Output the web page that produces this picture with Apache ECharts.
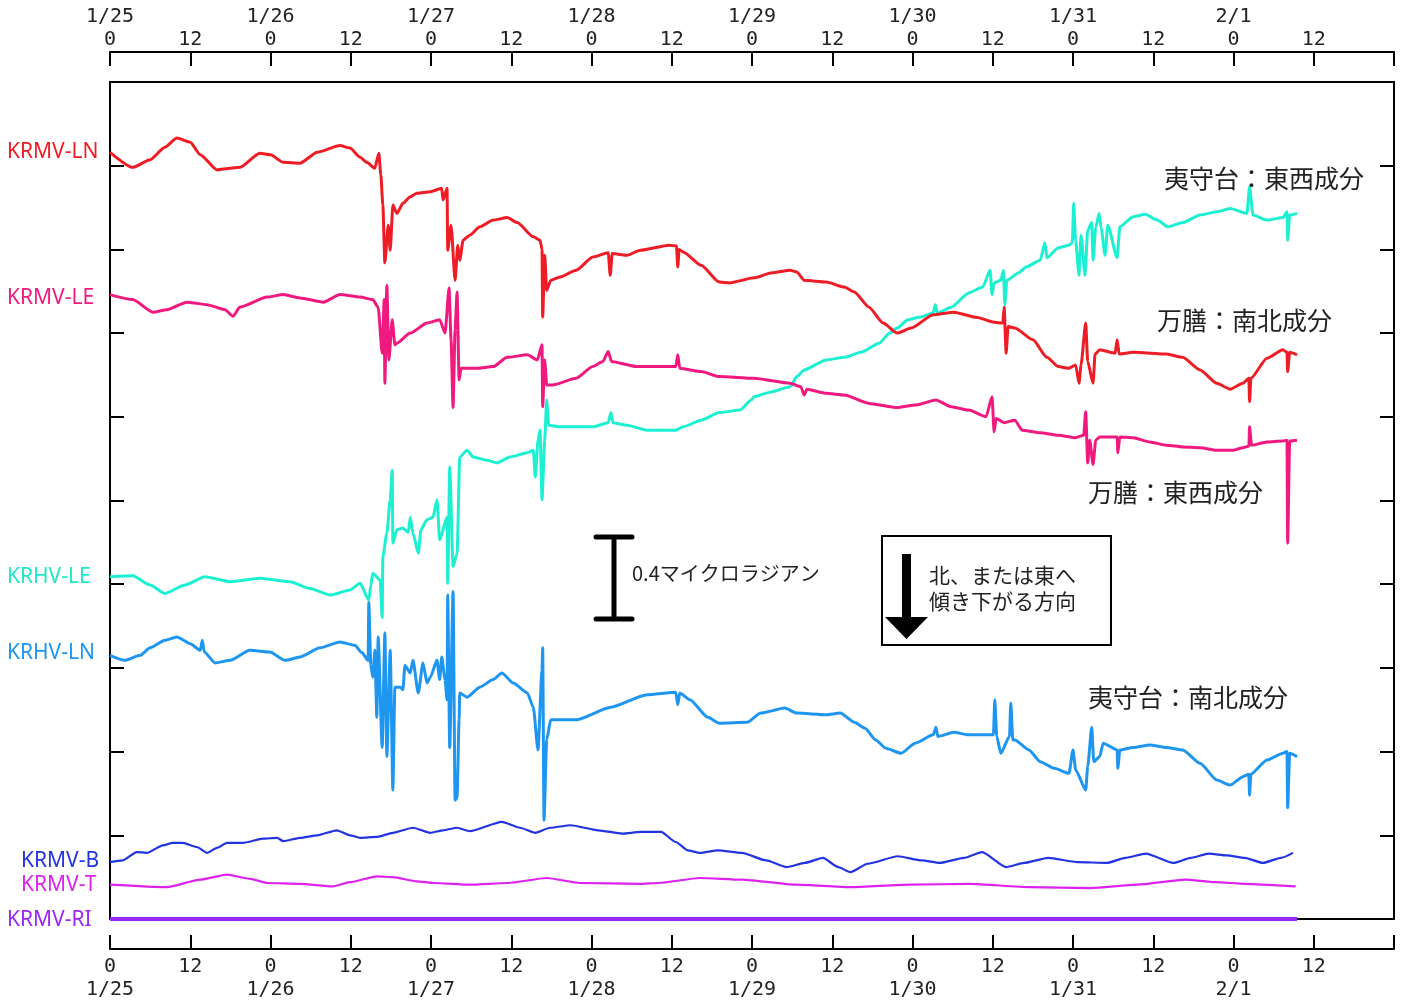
<!DOCTYPE html>
<html>
<head>
<meta charset="utf-8">
<script src="https://cdn.jsdelivr.net/npm/echarts@6/dist/echarts.min.js"></script>
<style>
html,body{margin:0;padding:0;background:#fff;}
#chart{width:1407px;height:1003px;}
</style>
</head>
<body>
<div id="chart"></div>
<script>
// x: hours since 1/25 0:00 ; y: offset scale, 1 unit = 0.4 microradian
const dayLabels = ['1/25','1/26','1/27','1/28','1/29','1/30','1/31','2/1'];
const hourLabel = '12';

const krmvLN = [[0,9.16],[3.4,8.98],[6,9.07],[8.2,9.22],[10,9.33],[12,9.28],[13.5,9.13],[16,8.95],[18,8.97],[19.4,8.98],[22.4,9.15],[24,9.13],[25.9,9.04],[28.4,9.03],[31,9.16],[34.4,9.24],[35.9,9.21],[37.4,9.10],[38.4,9.04],[39.6,8.97],[40.2,9.15],[40.5,8.89],[40.8,8.53],[41.1,7.84],[41.6,8.29],[41.9,7.99],[42.3,8.53],[42.9,8.43],[43.8,8.55],[44.9,8.63],[45.9,8.67],[47.9,8.69],[49.6,8.73],[49.8,8.59],[50.4,8.73],[50.5,7.99],[51,8.29],[51.6,7.63],[52,8.05],[52.3,7.87],[52.8,8.11],[53.8,8.17],[55.3,8.27],[57.3,8.35],[59.4,8.38],[60.9,8.32],[63.3,8.15],[64.3,8.11],[64.6,8.0],[64.7,7.19],[65,7.93],[65.3,7.51],[65.9,7.63],[67.3,7.67],[69.7,7.75],[72.2,7.91],[74.5,7.96],[74.8,7.69],[75.1,7.95],[77.3,7.93],[79.3,7.99],[83.6,8.05],[84.7,8.04],[84.9,7.79],[85.1,8.0],[85.7,7.97],[88.4,7.81],[91.1,7.61],[92.6,7.60],[96.3,7.66],[99,7.72],[101.7,7.75],[102.7,7.73],[103.8,7.63],[107.1,7.61],[109.8,7.55],[111.3,7.49],[113.5,7.31],[115.6,7.12],[117.7,7.00],[119.8,7.06],[123.1,7.22],[126.2,7.25],[129.5,7.19],[132.2,7.13],[133.5,7.12],[133.7,7.31],[134,6.76],[134.3,7.08],[135.3,7.06],[138,6.92],[140.1,6.71],[141.8,6.60],[143.4,6.58],[144.4,6.62],[144.9,6.40],[145.2,6.62],[145.9,7.12],[146.2,6.66],[147,6.40],[147.3,6.75],[148,6.80],[150.3,6.76],[150.6,6.92],[150.9,6.75],[153,6.77],[158,6.75],[160.4,6.71],[163,6.56],[165.5,6.40],[167.5,6.33],[169.4,6.40],[170.3,6.46],[170.4,6.18],[170.6,6.46],[173,6.70],[175.4,6.80],[176,6.77],[176.1,6.54],[176.4,6.77],[177.5,6.74]];

const krmvLE = [[0,7.46],[3.4,7.40],[6.4,7.25],[8.5,7.28],[11.5,7.37],[14.5,7.34],[17.2,7.28],[18.4,7.20],[19.4,7.31],[23.5,7.43],[25.9,7.46],[28.4,7.42],[31.9,7.37],[34.4,7.46],[37.4,7.43],[39.3,7.40],[40.1,7.31],[40.7,6.76],[41,7.40],[41.1,6.40],[41.4,7.57],[41.7,6.68],[42.2,7.16],[42.6,6.86],[42.9,6.88],[44.9,7.00],[47.4,7.12],[49.3,7.16],[50.1,7.00],[50.7,7.54],[51,6.92],[51.3,6.11],[51.6,7.04],[51.9,7.49],[52.2,6.44],[52.5,6.58],[54.9,6.58],[57.3,6.60],[59.4,6.71],[62.4,6.74],[63.9,6.68],[64.6,6.86],[64.7,6.12],[65,6.68],[65.3,6.38],[66.2,6.38],[69.7,6.46],[72.2,6.60],[73.7,6.66],[74.5,6.78],[75,6.66],[78.7,6.60],[84.6,6.60],[84.9,6.74],[85.2,6.58],[88.4,6.54],[91.1,6.48],[96.3,6.46],[101.7,6.40],[103.3,6.36],[103.8,6.26],[104.2,6.33],[107.1,6.28],[109.8,6.26],[113.5,6.16],[117.7,6.11],[120.4,6.14],[123.5,6.20],[125.8,6.12],[128.4,6.08],[131,6.00],[131.9,6.24],[132.2,5.82],[132.5,5.98],[133.7,5.93],[135.3,5.96],[136.4,5.84],[139.1,5.81],[141.8,5.78],[144.4,5.75],[145.6,5.78],[145.9,6.06],[146.2,5.45],[146.5,5.72],[147,5.43],[147.4,5.72],[148,5.76],[150.6,5.76],[150.7,5.57],[151,5.76],[153,5.75],[155.5,5.70],[158,5.66],[160.4,5.64],[163,5.63],[165.5,5.60],[167.9,5.60],[169.4,5.63],[170.3,5.65],[170.4,5.88],[170.7,5.66],[173,5.70],[175.4,5.71],[176,5.72],[176.1,4.49],[176.4,5.71],[177.5,5.72]];

const krhvLE = [[0,4.09],[3.4,4.10],[6,3.99],[8.2,3.89],[11.2,3.99],[14.2,4.09],[18,4.03],[22.4,4.07],[26.9,4.03],[29.9,3.95],[32.9,3.87],[35.9,3.93],[37.4,4.01],[38.7,3.81],[39,3.99],[39.3,4.13],[40.4,4.05],[40.7,3.60],[40.8,4.33],[41.4,4.61],[41.9,5.01],[42.2,5.36],[42.3,4.49],[42.9,4.65],[43.8,4.67],[44.6,4.62],[44.9,4.80],[45.3,4.61],[46.1,4.37],[46.5,4.65],[47.4,4.77],[48.3,4.80],[48.9,5.01],[49.3,4.53],[50.4,4.80],[50.5,4.01],[50.8,5.40],[51.3,4.21],[51.9,4.37],[52.3,5.52],[53.4,5.60],[54.3,5.52],[56.4,5.48],[57.9,5.45],[59.8,5.52],[62.4,5.57],[63.3,5.60],[63.6,5.28],[64,5.72],[64.3,5.84],[64.6,5.01],[65,5.72],[65.3,6.20],[65.6,5.90],[67.3,5.88],[69.7,5.88],[72.2,5.88],[74.5,5.93],[74.9,6.05],[75.2,5.93],[77.3,5.90],[80.3,5.84],[84.6,5.84],[85.7,5.88],[88.4,5.96],[91.1,6.05],[94.2,6.08],[95.9,6.20],[96.3,6.24],[99,6.30],[101.7,6.36],[102.7,6.48],[103.8,6.56],[107.1,6.68],[109.8,6.71],[112.3,6.77],[115,6.88],[116.6,7.00],[117.7,7.06],[119.3,7.16],[121,7.19],[123.1,7.24],[123.4,7.34],[123.7,7.24],[125.8,7.31],[128.4,7.48],[130.5,7.55],[131.6,7.75],[131.9,7.46],[132.2,7.60],[133.2,7.63],[133.6,7.75],[133.8,7.34],[134.1,7.63],[135.9,7.72],[137,7.79],[139.1,7.87],[139.8,8.08],[140.1,7.90],[141.8,8.02],[143.4,8.05],[143.9,8.08],[144.1,8.55],[144.4,8.10],[144.9,7.69],[145.2,8.17],[145.8,7.69],[146.2,8.23],[146.8,8.32],[147,7.87],[147.4,8.26],[147.9,8.43],[148.2,8.26],[148.8,7.93],[149.2,8.29],[150.6,7.90],[151,8.27],[153,8.39],[154.8,8.42],[156.6,8.35],[158.2,8.27],[160.4,8.32],[163,8.41],[165.5,8.45],[167.5,8.49],[170,8.43],[170.4,8.75],[170.9,8.41],[173,8.35],[175.4,8.38],[176,8.45],[176.1,8.11],[176.4,8.41],[177.5,8.43]];

const krhvLN = [[0,3.15],[2.2,3.09],[4.5,3.15],[6,3.24],[8.2,3.33],[10,3.37],[12,3.29],[13.5,3.21],[13.8,3.33],[14.1,3.19],[15.7,3.06],[18,3.09],[20.9,3.21],[23.9,3.19],[26.2,3.09],[28.4,3.13],[31.4,3.24],[34.4,3.31],[36.6,3.27],[37.7,3.18],[38.6,3.09],[38.7,3.78],[39,3.03],[39.3,2.89],[39.6,3.21],[39.9,2.41],[40.1,3.37],[40.7,2.05],[41.1,3.42],[41.4,1.94],[41.9,3.21],[42.3,1.54],[42.6,2.77],[43.4,2.77],[43.8,2.74],[44.1,3.03],[44.9,2.94],[45.3,3.09],[46.1,2.70],[46.8,3.06],[47.4,2.82],[47.9,2.89],[48.9,3.09],[49.3,2.86],[49.6,3.13],[50.1,2.86],[50.4,2.62],[50.5,3.87],[50.8,2.05],[51.3,3.91],[51.6,1.42],[51.9,1.45],[52.2,2.38],[52.3,2.70],[53.4,2.65],[55.3,2.77],[57.3,2.86],[58.6,2.94],[60.3,2.82],[62.4,2.70],[63.3,2.53],[64,2.02],[64.6,2.97],[64.7,3.24],[64.9,1.18],[65.3,2.14],[65.9,2.38],[69.7,2.38],[74.9,2.53],[80.3,2.68],[84.6,2.71],[84.9,2.56],[85.2,2.70],[86.7,2.62],[89.4,2.41],[91.1,2.34],[95.3,2.35],[97.3,2.46],[100.9,2.52],[102.7,2.46],[107.1,2.44],[109.2,2.46],[111.3,2.35],[112.9,2.28],[114.5,2.14],[116,2.04],[118.3,1.98],[120.4,2.10],[123.1,2.20],[123.5,2.29],[123.8,2.18],[126.2,2.23],[128.4,2.20],[132.1,2.20],[132.3,2.62],[132.6,2.18],[133.2,1.98],[134.5,2.18],[134.7,2.58],[135,2.14],[135.3,2.14],[137.4,2.02],[139.1,1.88],[141.2,1.80],[143.4,1.74],[144,2.02],[144.4,1.78],[145.9,1.54],[146.2,1.82],[146.8,2.29],[147.1,1.88],[148,1.94],[148.5,2.10],[150.6,2.02],[150.7,1.80],[151,2.02],[153,2.05],[155.5,2.08],[158,2.05],[160.4,2.02],[163,1.86],[165.5,1.66],[167.5,1.60],[169.4,1.70],[170.3,1.73],[170.4,1.48],[170.6,1.73],[173,1.90],[175.4,1.98],[176,2.00],[176.1,1.33],[176.4,1.98],[177.5,1.94]];

const krmvB = [[0,0.68],[1.9,0.70],[4,0.80],[5.5,0.79],[7.9,0.88],[9.4,0.91],[10.9,0.91],[13,0.86],[14.5,0.79],[16,0.85],[17.5,0.91],[19.9,0.91],[22.9,0.96],[25,0.97],[25.9,0.93],[28.4,0.97],[31,1.00],[33.9,1.06],[35.9,1.00],[37.4,0.97],[39.9,0.98],[42.3,1.03],[45.3,1.09],[47.9,1.03],[49.8,1.06],[51.9,1.09],[53.8,1.05],[58.6,1.16],[61.3,1.09],[63.6,1.03],[65.8,1.09],[68.9,1.12],[73,1.06],[76.6,1.02],[79.3,1.04],[82.4,1.04],[84.6,0.92],[86.4,0.82],[88.2,0.79],[90.9,0.82],[94.5,0.79],[98.1,0.70],[101.2,0.62],[103.9,0.67],[106.6,0.73],[108.9,0.62],[110.7,0.56],[113.3,0.66],[117.8,0.75],[121.4,0.70],[124.1,0.67],[127.7,0.73],[130.4,0.80],[134,0.62],[136.7,0.67],[140.3,0.73],[144.7,0.68],[149.1,0.67],[151.8,0.73],[154.9,0.78],[159,0.67],[161.6,0.73],[164.3,0.78],[167,0.76],[169.7,0.73],[172.4,0.67],[175.1,0.73],[176.9,0.79]];

const krmvT = [[0,0.41],[8.5,0.38],[13.5,0.47],[17.5,0.53],[21,0.48],[23.5,0.43],[28.4,0.42],[33.3,0.39],[35.9,0.44],[39.9,0.51],[42.3,0.50],[45.9,0.45],[48.3,0.43],[53.8,0.41],[59.5,0.43],[65.3,0.49],[70.3,0.43],[79.3,0.42],[82,0.43],[88.2,0.49],[94.5,0.47],[102.6,0.41],[110.7,0.38],[119.6,0.41],[128.6,0.42],[137.6,0.38],[146.6,0.37],[153.6,0.41],[160.8,0.47],[165.3,0.44],[169.7,0.42],[177.3,0.39]];

const krmvRI = [[0,0],[24,0],[48,0],[72,0],[96,0],[120,0],[144,0],[168,0],[177.5,0]];

const seriesDefs = [
  {name:'KRHV-LE', data:krhvLE, color:'#1cf0d2', width:3},
  {name:'KRHV-LN', data:krhvLN, color:'#1e96f0', width:3},
  {name:'KRMV-LE', data:krmvLE, color:'#f0197f', width:3},
  {name:'KRMV-LN', data:krmvLN, color:'#ee1c25', width:3},
  {name:'KRMV-B',  data:krmvB,  color:'#2233e0', width:2.2},
  {name:'KRMV-T',  data:krmvT,  color:'#dd22ee', width:2.2},
  {name:'KRMV-RI', data:krmvRI, color:'#9b26f5', width:4}
];

const chart = echarts.init(document.getElementById('chart'), null, {renderer:'canvas'});

const axisFont = {fontFamily:'DejaVu Sans Mono', fontSize:20, color:'#222', lineHeight:23};
function xAxisDef(pos){
  return {
    type:'value', min:0, max:192, interval:12, position:pos, offset:30,
    axisLine:{show:true, onZero:false, lineStyle:{color:'#000', width:2}},
    axisTick:{show:true, inside:true, length:14, lineStyle:{color:'#000', width:2}},
    splitLine:{show:false},
    axisLabel:Object.assign({}, axisFont, {
      margin: pos === 'top' ? 1 : 6,
      showMaxLabel:true, showMinLabel:true,
      formatter: function(v){
        if (v % 24 === 0) {
          const d = dayLabels[v/24];
          if (!d) return '';
          return pos === 'top' ? d + '\n0' : '0\n' + d;
        }
        return hourLabel;
      }
    })
  };
}
function yAxisDef(pos){
  return {
    type:'value', min:0, max:10, interval:1, position:pos,
    axisLine:{show:false, onZero:false},
    axisTick:{show:true, inside:true, length:14, lineStyle:{color:'#000', width:2}},
    axisLabel:{show:false},
    splitLine:{show:false}
  };
}

const labelFont = '21px "Noto Sans"';
const jpFont = '25px "Noto Sans CJK JP"';
const boxFont = '21px "Noto Sans CJK JP"';
function txt(text, x, y, font, fill){
  return {type:'text', x:x, y:y, z:100, style:{text:text, font:font, fill:fill, align:'left', verticalAlign:'middle'}};
}

const graphics = [
  txt('KRMV-LN', 7, 152, labelFont, '#ee1c25'),
  txt('KRMV-LE', 7, 298, labelFont, '#f0197f'),
  txt('KRHV-LE', 7, 577, labelFont, '#1ee8c8'),
  txt('KRHV-LN', 7, 653, labelFont, '#1e96f0'),
  txt('KRMV-B', 21, 861, labelFont, '#2233e0'),
  txt('KRMV-T', 21, 885, labelFont, '#dd22ee'),
  txt('KRMV-RI', 7, 920, labelFont, '#9b26f5'),
  txt('夷守台：東西成分', 1164, 178, jpFont, '#222'),
  txt('万膳：南北成分', 1157, 320, jpFont, '#222'),
  txt('万膳：東西成分', 1088, 492, jpFont, '#222'),
  txt('夷守台：南北成分', 1088, 697, jpFont, '#222'),
  // scale bar
  {type:'line', z:100, shape:{x1:614, y1:537, x2:614, y2:619}, style:{stroke:'#000', lineWidth:5}},
  {type:'line', z:100, shape:{x1:596, y1:537, x2:632, y2:537}, style:{stroke:'#000', lineWidth:5, lineCap:'round'}},
  {type:'line', z:100, shape:{x1:596, y1:619, x2:632, y2:619}, style:{stroke:'#000', lineWidth:5, lineCap:'round'}},
  txt('0.4マイクロラジアン', 632, 573, '20px "Noto Sans CJK JP"', '#222'),
  // direction box
  {type:'rect', z:100, shape:{x:882, y:536, width:229, height:109}, style:{fill:'rgba(0,0,0,0)', stroke:'#000', lineWidth:2}},
  {type:'rect', z:100, shape:{x:902, y:554, width:9, height:66}, style:{fill:'#000'}},
  {type:'polygon', z:100, shape:{points:[[885,617],[928,617],[906.5,639]]}, style:{fill:'#000'}},
  txt('北、または東へ', 929, 575, boxFont, '#222'),
  txt('傾き下がる方向', 929, 601, boxFont, '#222')
];

const option = {
  animation:false,
  backgroundColor:'#fff',
  grid:{left:110, right:13, top:82, bottom:84, show:true, borderColor:'#000', borderWidth:2, backgroundColor:'transparent'},
  xAxis:[xAxisDef('bottom'), xAxisDef('top')],
  yAxis:[yAxisDef('left'), yAxisDef('right')],
  series: seriesDefs.map(function(s, i){
    return {
      name:s.name, type:'line', data:s.data, xAxisIndex:0, yAxisIndex:0,
      showSymbol:false, symbol:'none', clip: s.name !== 'KRMV-RI',
      smooth: 0.2, smoothMonotone:'x',
      z: 2 + i,
      lineStyle:{color:s.color, width:s.width, join:'round'},
      itemStyle:{color:s.color},
      emphasis:{disabled:true}
    };
  }),
  graphic: graphics
};
chart.setOption(option);
</script>
</body>
</html>
